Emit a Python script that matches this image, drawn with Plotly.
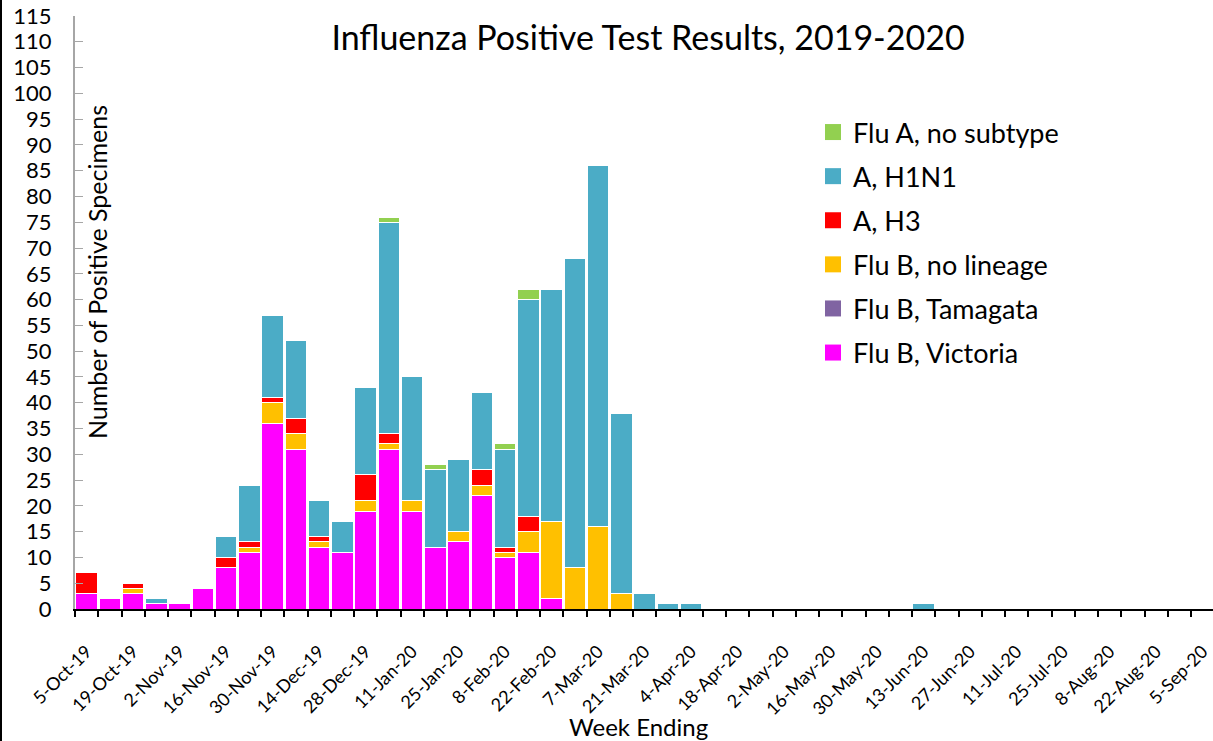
import pandas as pd
import plotly.graph_objects as go

weeks = pd.date_range("2019-10-05", "2020-09-05", freq="7D")
n = len(weeks)

def pad(vals):
    return list(vals) + [0] * (n - len(vals))

victoria = pad([3, 2, 3, 1, 1, 4, 8, 11, 36, 31, 12, 11, 19, 31, 19, 12, 13, 22, 10, 11, 2])
tamagata = pad([])
b_no_lineage = pad([0, 0, 1, 0, 0, 0, 0, 1, 4, 3, 1, 0, 2, 1, 2, 0, 2, 2, 1, 4, 15, 8, 16, 3])
a_h3 = pad([4, 0, 1, 0, 0, 0, 2, 1, 1, 3, 1, 0, 5, 2, 0, 0, 0, 3, 1, 3])
a_h1n1 = pad([0, 0, 0, 1, 0, 0, 4, 11, 16, 15, 7, 6, 17, 41, 24, 15, 14, 15, 19, 42, 45, 60, 70, 35, 3, 1, 1,
              0, 0, 0, 0, 0, 0, 0, 0, 0, 1])
a_no_subtype = pad([0, 0, 0, 0, 0, 0, 0, 0, 0, 0, 0, 0, 0, 1, 0, 1, 0, 0, 1, 2])

series = [
    ("Flu B, Victoria", victoria, "#FF00FF"),
    ("Flu B, Tamagata", tamagata, "#8064A2"),
    ("Flu B, no lineage", b_no_lineage, "#FFC000"),
    ("A, H3", a_h3, "#FF0000"),
    ("A, H1N1", a_h1n1, "#4BACC6"),
    ("Flu A, no subtype", a_no_subtype, "#92D050"),
]

FONT = "Lato"
fig = go.Figure()
for i, (name, vals, col) in enumerate(series):
    fig.add_trace(go.Bar(
        x=weeks, y=vals, name=name, legendgroup=name, showlegend=False,
        marker=dict(color=col, line=dict(color="white", width=1)),
    ))
# legend entries with larger square swatches
for i, (name, vals, col) in enumerate(series):
    fig.add_trace(go.Scatter(
        x=[None], y=[None], mode="markers", name=name, legendgroup=name,
        legendrank=len(series) - i,
        marker=dict(symbol="square", size=16, color=col),
    ))

W, H = 1213, 741
ml, mr, mt, mb = 75, 0, 16, 132
pw, ph = W - ml - mr, H - mt - mb

day = 86400000
cat_px = 23.25
visible_cats = pw / cat_px
x0 = weeks[0] - pd.Timedelta(hours=84)
x1 = x0 + pd.Timedelta(hours=168 * visible_cats)

fig.update_layout(
    width=W, height=H,
    margin=dict(l=ml, r=mr, t=mt, b=mb, autoexpand=False),
    barmode="stack", bargap=0.08,
    paper_bgcolor="white", plot_bgcolor="white",
    font=dict(family=FONT, color="black"),
    title=dict(text="Influenza Positive Test Results, 2019-2020", x=648 / W, xanchor="center",
               y=1 - 38 / H, yanchor="middle", font=dict(size=34, family=FONT, color="black")),
    legend=dict(x=(813 - ml) / pw, y=(609 - 108) / ph, xanchor="left", yanchor="top",
                traceorder="grouped", tracegroupgap=6,
                font=dict(size=27, family=FONT, color="black"), bgcolor="rgba(0,0,0,0)"),
    xaxis=dict(
        type="date", automargin=False,
        range=[x0, x1],
        tickmode="linear", tick0=weeks[0], dtick=14 * day,
        tickformat="%-d-%b-%y", tickangle=-45, ticks="",
        tickfont=dict(size=18, family=FONT, color="black"),
        ticklabelstandoff=23, ticklabeloverflow="allow",
        showline=True, linecolor="black", linewidth=2,
        showgrid=False, zeroline=False,
        minor=dict(ticks="outside", ticklen=6, tickwidth=2, tickcolor="black",
                   tick0=x0, dtick=7 * day, showgrid=False),
    ),
    yaxis=dict(
        automargin=False,
        range=[0, 115], tickmode="linear", tick0=0, dtick=5,
        ticks="inside", ticklen=8, tickcolor="#A6A6A6", tickwidth=1,
        showline=True, linecolor="#A6A6A6", linewidth=2,
        showgrid=False, zeroline=False,
        tickfont=dict(size=22, family=FONT, color="black"),
        ticklabelstandoff=17,
    ),
    annotations=[
        dict(text="Number of Positive Specimens", xref="paper", yref="paper",
             x=(97 - ml) / pw, y=(609 - 272) / ph, textangle=-90, showarrow=False,
             xanchor="center", yanchor="middle", font=dict(size=25, family=FONT, color="black")),
        dict(text="Week Ending", xref="paper", yref="paper",
             x=(638 - ml) / pw, y=(609 - 726) / ph, showarrow=False,
             xanchor="center", yanchor="middle", font=dict(size=24, family=FONT, color="black")),
    ],
    shapes=[
        dict(type="line", xref="paper", yref="paper", x0=-(ml - 1) / pw, x1=-(ml - 1) / pw,
             y0=-mb / ph, y1=1 + mt / ph, line=dict(color="black", width=2)),
    ],
)

fig.write_html("out.html", config={"displayModeBar": False},
               post_script="document.body.style.margin='0';")
